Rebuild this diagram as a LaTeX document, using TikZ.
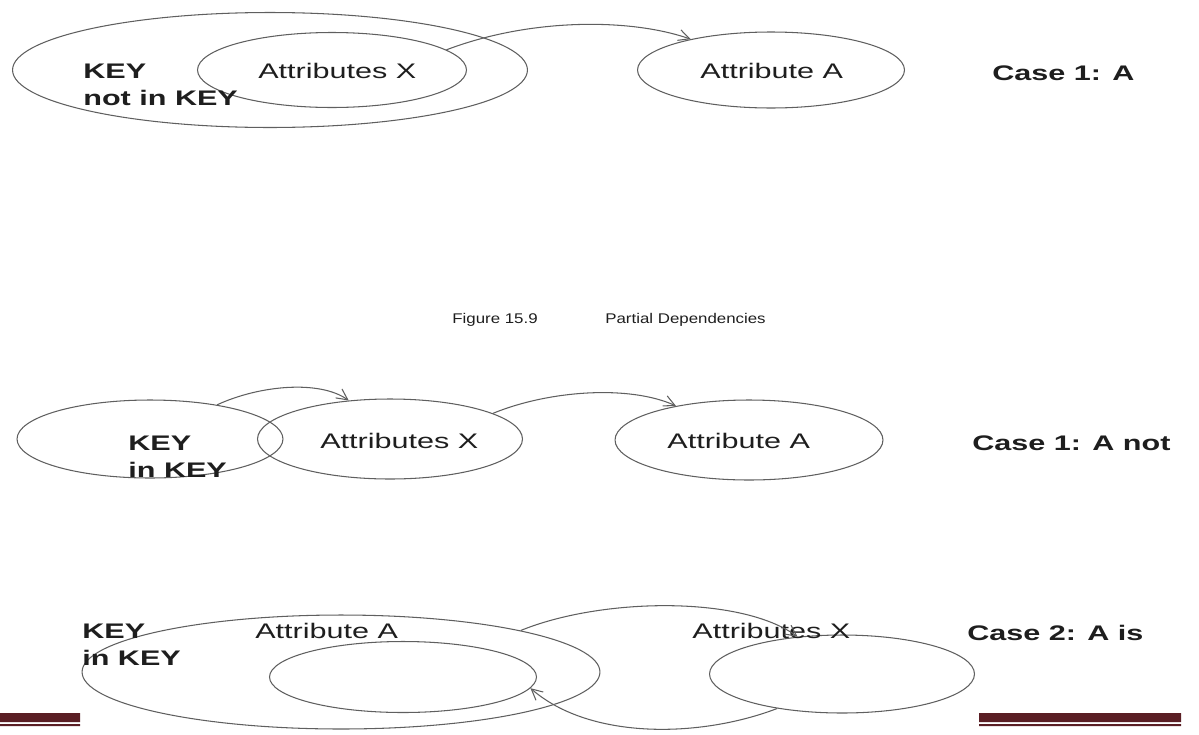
\documentclass[tikz,border=0pt]{standalone}
\usepackage{fontspec}
\setmainfont[FakeStretch=1.45]{Liberation Sans}
\newfontfamily\capfont[FakeStretch=1.2]{Liberation Sans}
\usetikzlibrary{shapes,arrows.meta}
\definecolor{linegray}{RGB}{95,95,95}
\definecolor{textgray}{RGB}{30,30,30}
\definecolor{barred}{RGB}{90,30,36}
\tikzset{
    oval/.style = {draw=linegray, ellipse, inner sep=0pt, line width=0.6pt},
    lbl/.style = {inner sep=0pt, anchor=base west, text=textgray,
        font=\fontsize{12}{14}\selectfont},
    keylbl/.style = {lbl, font=\fontsize{12}{14}\selectfont\bfseries},
    caplbl/.style = {lbl, font=\capfont\fontsize{8}{10}\selectfont},
    arrow/.style = {draw=linegray, line width=0.6pt,
        -{Straight Barb[length=2.2mm,width=2.2mm]}}
}

\begin{document}
\begin{tikzpicture}[x=0.02cm, y=-0.02cm]
                \useasboundingbox (0,0) rectangle (1199,734);
                % Case 1: A not in KEY
                \node[oval, minimum width=10.3cm, minimum height=2.3cm] (key1) at (270,70) {};
                \node[oval, minimum width=5.38cm, minimum height=1.5cm] (attrx1) at (332,70) {};
                \node[oval, minimum width=5.34cm, minimum height=1.52cm] (attra1) at (771,70) {};
                \node[keylbl] (key1a) at (83,78) {KEY};
                \node[keylbl] (key1b) at (83,105) {not in KEY};
                \node[lbl] (lblx1) at (258,78) {Attributes X};
                \node[lbl] (lbla1) at (700,78) {Attribute A};
                \node[keylbl] (case1) at (992,80) {Case 1: A};
                \draw [arrow] (attrx1.10) .. controls (530,18) and (630,18) .. (attra1.159);
                \node[caplbl] (fig) at (452,323) {Figure 15.9};
                \node[caplbl] (title) at (605,323) {Partial Dependencies};
                % Case 1: A not in KEY (partial)
                \node[oval, minimum width=5.32cm, minimum height=1.56cm] (key2) at (150,439) {};
                \node[oval, minimum width=5.3cm, minimum height=1.6cm] (attrx2) at (390,439) {};
                \node[oval, minimum width=5.36cm, minimum height=1.6cm] (attra2) at (749,440) {};
                \node[keylbl] (key2a) at (128,450) {KEY};
                \node[keylbl] (key2b) at (128,477) {in KEY};
                \node[lbl] (lblx2) at (320,448) {Attributes X};
                \node[lbl] (lbla2) at (667,448) {Attribute A};
                \node[keylbl] (case2) at (972,450) {Case 1: A not};
                \draw [arrow] (key2.27) .. controls (260,385) and (320,380) .. (attrx2.137);
                \draw [arrow] (attrx2.14) .. controls (550,390) and (630,385) .. (attra2.155);
                % Case 2: A is in KEY
                \node[oval, minimum width=10.36cm, minimum height=2.28cm] (key3) at (341,672) {};
                \node[oval, minimum width=5.34cm, minimum height=1.42cm] (attra3) at (403,677) {};
                \node[oval, minimum width=5.3cm, minimum height=1.56cm] (attrx3) at (842,674) {};
                \node[keylbl] (key3a) at (82,638) {KEY};
                \node[keylbl] (key3b) at (82,665) {in KEY};
                \node[lbl] (lbla3) at (255,638) {Attribute A};
                \node[lbl] (lblx3) at (692,638) {Attributes X};
                \node[keylbl] (case3) at (967,640) {Case 2: A is};
                \draw [arrow] (key3.13) .. controls (600,598) and (740,595) .. (attrx3.140);
                \draw [arrow] (attrx3.208) .. controls (700,738) and (590,740) .. (attra3.355);
                \fill[barred] (0,713) rectangle (80,722) (0,724) rectangle (80,726);
                \fill[barred] (979,713) rectangle (1181,722) (979,724) rectangle (1181,726);
            \end{tikzpicture}
\end{document}
